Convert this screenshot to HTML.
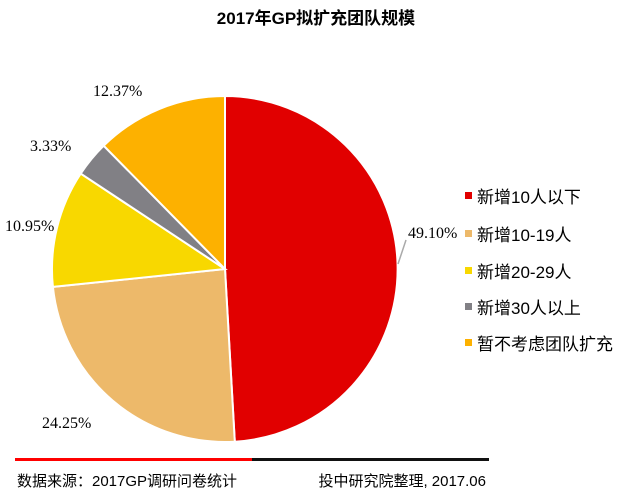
<!DOCTYPE html>
<html><head><meta charset="utf-8"><style>
body{margin:0;width:633px;height:496px;background:#fff;overflow:hidden;font-family:"Liberation Sans","Noto Sans CJK SC",sans-serif}
</style></head><body>
<svg width="633" height="496" xmlns="http://www.w3.org/2000/svg" font-family="Liberation Sans, Noto Sans CJK SC, sans-serif">
<text x="316" y="24" text-anchor="middle" font-size="17" font-weight="bold">2017年GP拟扩充团队规模</text>
<g stroke="#fff" stroke-width="2">
<path d="M225,269 L225,96 A173,173 0 0 1 234.8,441.7 Z" fill="#e10000"/>
<path d="M225,269 L234.8,441.7 A173,173 0 0 1 52.9,286.9 Z" fill="#edb96a"/>
<path d="M225,269 L52.9,286.9 A173,173 0 0 1 80.7,173.6 Z" fill="#f8d800"/>
<path d="M225,269 L80.7,173.6 A173,173 0 0 1 103.7,145.7 Z" fill="#818085"/>
<path d="M225,269 L103.7,145.7 A173,173 0 0 1 225,96 Z" fill="#fdb100"/>
</g>
<line x1="398" y1="264" x2="406" y2="240" stroke="#aaa" stroke-width="1.5"/>
<g font-family="Liberation Serif, serif" font-size="16" fill="#000">
<text x="408" y="238">49.10%</text>
<text x="93" y="96">12.37%</text>
<text x="30" y="151">3.33%</text>
<text x="5" y="231">10.95%</text>
<text x="42" y="428">24.25%</text>
</g>
<g font-size="17">
<rect x="465" y="192" width="7" height="7" fill="#e10000"/><text x="477" y="203">新增10人以下</text>
<rect x="465" y="230" width="7" height="7" fill="#edb96a"/><text x="477" y="241">新增10-19人</text>
<rect x="465" y="267" width="7" height="7" fill="#f8d800"/><text x="477" y="278">新增20-29人</text>
<rect x="465" y="303" width="7" height="7" fill="#818085"/><text x="477" y="314">新增30人以上</text>
<rect x="465" y="339" width="7" height="7" fill="#fdb100"/><text x="477" y="350">暂不考虑团队扩充</text>
</g>
<rect x="15" y="458" width="237" height="3" fill="#ff0000"/>
<rect x="252" y="458" width="237" height="3" fill="#111"/>
<text x="17" y="486" font-size="15">数据来源：2017GP调研问卷统计</text>
<text x="486" y="486" font-size="15" text-anchor="end">投中研究院整理, 2017.06</text>
</svg>
</body></html>
